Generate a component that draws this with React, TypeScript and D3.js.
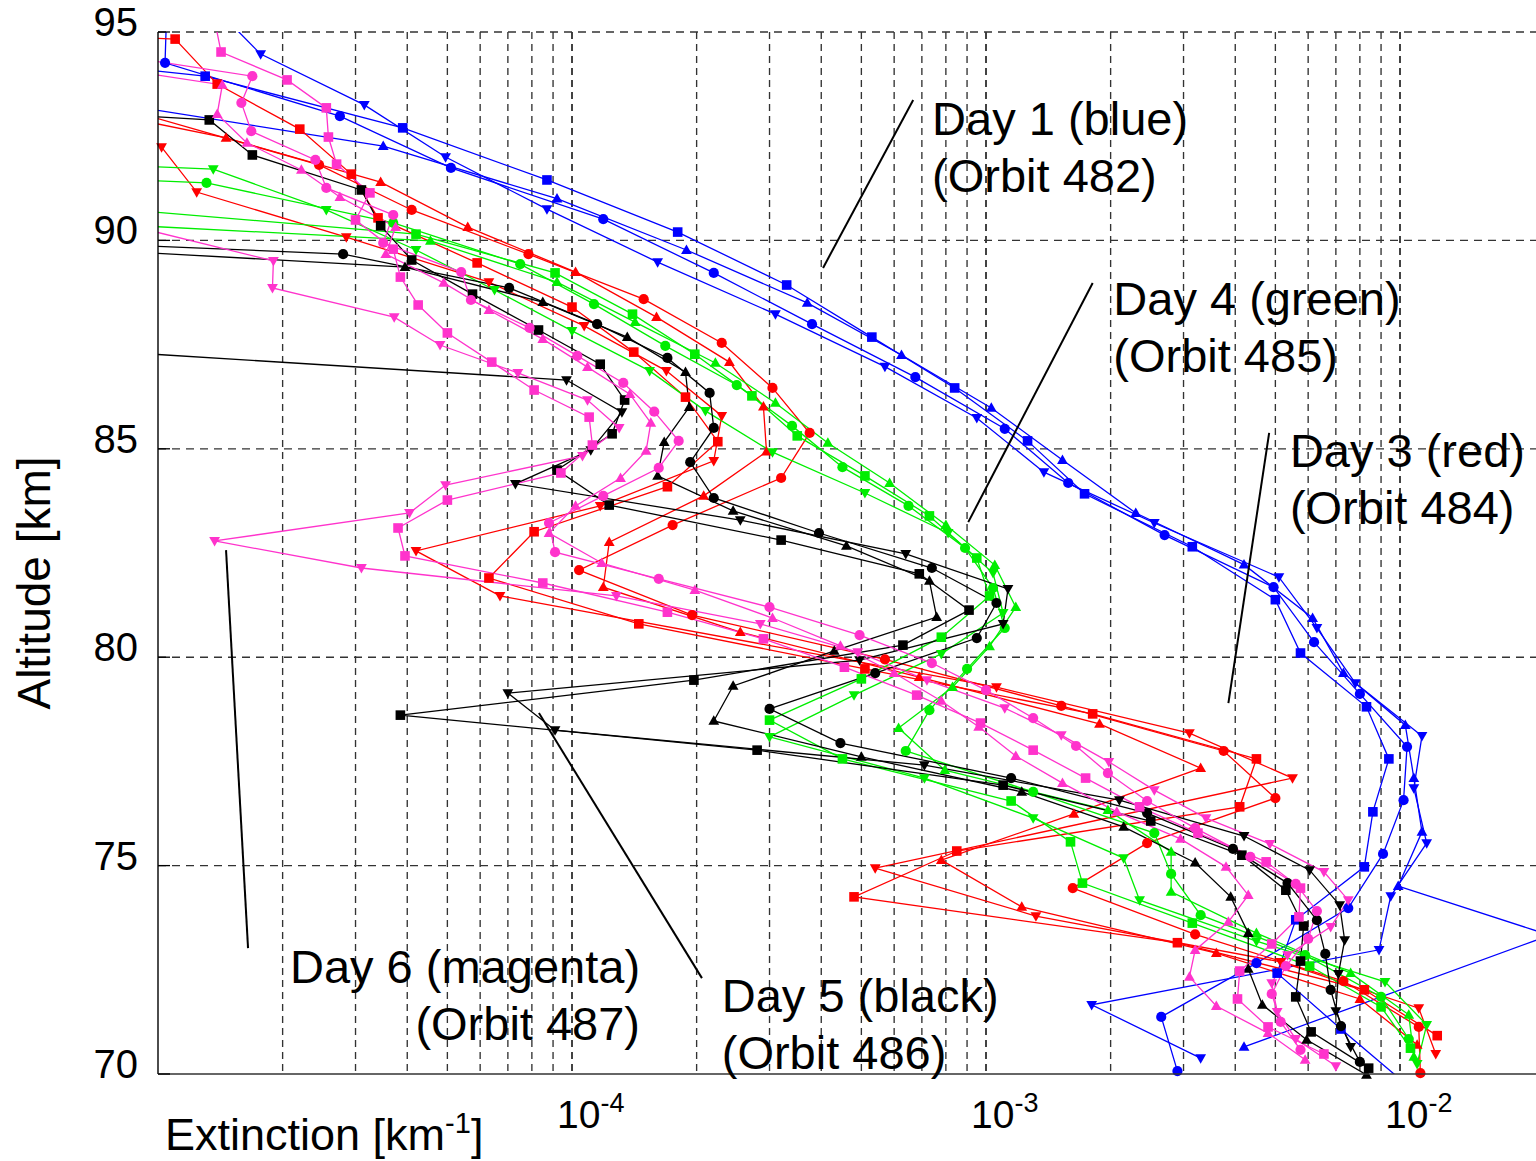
import React from 'react';
import * as d3 from 'd3';

// [altitude (km), extinction (km^-1)]
type P = [number, number];

const days = ['Day 1', 'Day 3', 'Day 4', 'Day 5', 'Day 6'];
const orbits = ['482', '484', '485', '486', '487'];
const dayColors = ['#0000ff', '#ff0000', '#00ee00', '#000000', '#ff33cc'];
const markerTypes = ['square', 'circle', 'up', 'down'];

// ---- Day 1 (blue, orbit 482)
const day1Square: P[] = [[94.3, 6e-6], [93.94, 1.3e-5], [92.7, 3.9e-5], [91.45, 8.7e-5], [90.2, 1.8e-4], [88.93, 3.3e-4], [87.68, 5.3e-4], [86.46, 8.4e-4], [85.19, 1.26e-3], [83.92, 1.73e-3], [82.65, 3.15e-3], [81.38, 5.0e-3], [80.1, 5.75e-3], [78.81, 8.3e-3], [77.56, 9.4e-3], [76.29, 8.6e-3], [74.97, 8.2e-3], [73.7, 5.6e-3], [72.42, 5.05e-3], [71.08, 7.2e-3], [69.7, 1.05e-2]];
const day1Circle: P[] = [[95.6, 1.05e-5], [94.26, 1.04e-5], [92.98, 2.75e-5], [91.74, 5.1e-5], [90.51, 1.19e-4], [89.22, 2.2e-4], [87.99, 3.8e-4], [86.72, 6.75e-4], [85.48, 1.11e-3], [84.18, 1.58e-3], [82.93, 2.7e-3], [81.68, 4.95e-3], [80.36, 6.2e-3], [79.12, 8.0e-3], [77.85, 1.04e-2], [76.57, 1.02e-2], [75.28, 9.1e-3], [73.98, 7.5e-3], [72.66, 4.5e-3], [71.37, 2.65e-3], [70.07, 2.9e-3]];
const day1Up: P[] = [[94.3, 1.8e-6], [92.26, 3.5e-5], [91.0, 9.2e-5], [89.77, 1.89e-4], [88.5, 3.7e-4], [87.25, 6.25e-4], [85.98, 1.03e-3], [84.73, 1.53e-3], [83.46, 2.3e-3], [82.22, 4.2e-3], [80.94, 6.15e-3], [79.62, 7.3e-3], [78.37, 1.03e-2], [77.1, 1.08e-2], [75.81, 1.13e-2], [74.51, 9.9e-3], [73.33, 2.3e-2], [70.65, 4.2e-3]];
const day1Down: P[] = [[95.72, 1.33e-5], [94.47, 1.77e-5], [93.25, 3.15e-5], [92.0, 4.95e-5], [90.75, 8.7e-5], [89.48, 1.61e-4], [88.23, 3.1e-4], [86.97, 5.7e-4], [85.74, 9.5e-4], [84.44, 1.38e-3], [83.22, 2.55e-3], [81.92, 5.1e-3], [80.7, 6.3e-3], [79.38, 7.8e-3], [78.11, 1.13e-2], [76.86, 1.08e-2], [75.54, 1.16e-2], [74.27, 9.5e-3], [72.98, 8.9e-3], [71.66, 1.8e-3], [70.38, 3.3e-3]];

// ---- Day 3 (red, orbit 484)
const day3Square: P[] = [[95.9, 2e-8], [94.83, 1.1e-5], [93.75, 1.39e-5], [92.67, 2.2e-5], [91.59, 2.93e-5], [90.54, 3.4e-5], [89.46, 5.9e-5], [88.4, 1.0e-4], [87.32, 1.41e-4], [86.24, 1.88e-4], [85.17, 2.25e-4], [84.09, 1.7e-4], [83.01, 8.1e-5], [81.9, 6.3e-5], [80.8, 1.45e-4], [79.72, 5.1e-4], [78.64, 1.81e-3], [77.56, 4.5e-3], [76.41, 4.1e-3], [75.35, 8.5e-4], [74.25, 4.8e-4], [73.15, 2.9e-3], [72.02, 8.2e-3], [70.92, 1.23e-2]];
const day3Circle: P[] = [[93.2, 8e-6], [91.81, 2.45e-5], [90.73, 4.1e-5], [89.67, 7.85e-5], [88.59, 1.49e-4], [87.54, 2.3e-4], [86.46, 3.05e-4], [85.38, 3.75e-4], [84.3, 3.2e-4], [83.17, 1.75e-4], [82.09, 1.04e-4], [81.01, 1.95e-4], [79.95, 5.7e-4], [78.83, 1.52e-3], [77.75, 3.75e-3], [76.62, 5.0e-3], [75.54, 2.45e-3], [74.46, 1.62e-3], [73.35, 3.2e-3], [72.23, 7.3e-3], [71.13, 1.11e-2], [70.02, 1.12e-2]];
const day3Up: P[] = [[93.4, 5e-6], [92.46, 1.46e-5], [91.4, 3.45e-5], [90.32, 5.6e-5], [89.24, 1.02e-4], [88.16, 1.6e-4], [87.08, 2.4e-4], [86.01, 2.9e-4], [84.93, 2.95e-4], [83.87, 2.08e-4], [82.76, 1.23e-4], [81.68, 1.19e-4], [80.6, 2.55e-4], [79.52, 6.9e-4], [78.4, 1.88e-3], [77.34, 3.3e-3], [76.24, 1.63e-3], [75.13, 7.8e-4], [74.01, 1.22e-3], [72.9, 3.6e-3], [71.8, 8.0e-3], [70.7, 1.1e-2]];
const day3Down: P[] = [[92.24, 1.02e-5], [91.16, 1.24e-5], [90.08, 2.85e-5], [89.0, 6.3e-5], [87.95, 1.07e-4], [86.87, 1.69e-4], [85.79, 2.3e-4], [84.71, 2.2e-4], [83.63, 1.17e-4], [82.55, 4.2e-5], [81.47, 6.7e-5], [79.28, 1.06e-3], [78.18, 3.1e-3], [77.1, 5.5e-3], [74.94, 5.4e-4], [73.79, 1.32e-3], [72.69, 5.15e-3], [71.58, 1.11e-2], [70.48, 1.22e-2]];

// ---- Day 4 (green, orbit 485)
const day4Square: P[] = [[91.14, 2.8e-6], [90.15, 4.2e-5], [89.22, 9.1e-5], [88.23, 1.4e-4], [87.27, 1.98e-4], [86.27, 2.72e-4], [85.31, 3.5e-4], [84.35, 5.1e-4], [83.39, 7.3e-4], [82.38, 9.5e-4], [81.47, 1.02e-3], [80.48, 7.8e-4], [79.48, 5.0e-4], [78.49, 3.0e-4], [77.56, 4.5e-4], [76.55, 1.15e-3], [75.57, 1.6e-3], [74.58, 1.71e-3], [73.62, 3.15e-3], [72.59, 6.05e-3], [71.61, 9.0e-3], [70.62, 1.06e-2]];
const day4Circle: P[] = [[92.5, 2e-8], [91.38, 1.31e-5], [90.42, 3.7e-5], [89.43, 7.5e-5], [88.47, 1.13e-4], [87.47, 1.68e-4], [86.53, 2.5e-4], [85.55, 3.4e-4], [84.56, 4.5e-4], [83.63, 6.5e-4], [82.62, 8.9e-4], [81.66, 1.04e-3], [80.7, 1.11e-3], [79.72, 9.0e-4], [78.73, 7.3e-4], [77.75, 6.4e-4], [76.77, 1.3e-3], [75.78, 2.55e-3], [74.8, 2.8e-3], [73.81, 3.3e-3], [72.85, 5.9e-3], [71.85, 9.0e-3], [70.84, 1.05e-2]];
const day4Up: P[] = [[90.97, 5.6e-7], [89.99, 4.55e-5], [89.0, 9.2e-5], [88.04, 1.42e-4], [87.06, 2.22e-4], [86.1, 3.1e-4], [85.14, 4.15e-4], [84.18, 5.85e-4], [83.17, 8.0e-4], [82.21, 1.05e-3], [81.2, 1.18e-3], [80.26, 1.02e-3], [79.28, 8.3e-4], [78.3, 6.15e-4], [77.29, 7.95e-4], [76.33, 1.97e-3], [75.33, 2.8e-3], [74.37, 2.8e-3], [73.38, 4.5e-3], [72.42, 7.6e-3], [71.42, 1.05e-2], [70.41, 1.08e-2]];
const day4Down: P[] = [[92.6, 1e-7], [91.71, 1.36e-5], [90.73, 2.55e-5], [89.77, 4.2e-5], [88.81, 6.5e-5], [87.83, 1.0e-4], [86.87, 1.54e-4], [85.91, 2.1e-4], [84.92, 3.05e-4], [83.94, 5.1e-4], [82.98, 8.1e-4], [82.02, 1.04e-3], [81.06, 1.1e-3], [80.08, 7.8e-4], [79.09, 4.8e-4], [78.09, 3.0e-4], [77.1, 7.1e-4], [76.14, 1.3e-3], [75.18, 2.15e-3], [74.17, 2.35e-3], [73.19, 4.5e-3], [72.21, 9.2e-3], [71.18, 1.16e-2], [70.24, 1.1e-2]];

// ---- Day 5 (black, orbit 486)
const day5Square: P[] = [[93.73, 4.9e-7], [92.89, 1.33e-5], [92.05, 1.69e-5], [91.21, 3.1e-5], [90.35, 3.45e-5], [89.53, 4.1e-5], [88.71, 5.75e-5], [87.85, 8.3e-5], [87.03, 1.17e-4], [86.17, 1.34e-4], [85.36, 1.25e-4], [84.49, 9.2e-5], [83.65, 1.23e-4], [82.81, 3.2e-4], [82.0, 6.9e-4], [81.13, 9.1e-4], [80.29, 6.3e-4], [79.45, 1.97e-4], [78.61, 3.85e-5], [77.77, 2.8e-4], [76.93, 1.1e-3], [76.07, 2.5e-3], [75.25, 4.15e-3], [74.41, 5.3e-3], [73.55, 5.85e-3], [72.71, 5.75e-3], [71.85, 5.6e-3], [71.01, 6.1e-3], [70.14, 8.4e-3]];
const day5Circle: P[] = [[90.5, 3e-7], [89.67, 2.8e-5], [88.86, 7.05e-5], [87.99, 1.15e-4], [87.18, 1.7e-4], [86.34, 2.15e-4], [85.5, 2.2e-4], [84.68, 1.93e-4], [83.82, 2.2e-4], [82.98, 3.95e-4], [82.14, 7.4e-4], [81.3, 1.06e-3], [80.46, 9.5e-4], [79.62, 5.4e-4], [78.76, 3.0e-4], [77.94, 4.45e-4], [77.1, 1.15e-3], [76.26, 2.45e-3], [75.4, 3.95e-3], [74.58, 5.35e-3], [73.69, 6.3e-3], [72.88, 6.6e-3], [72.02, 6.8e-3], [71.15, 7.2e-3], [70.29, 8.0e-3]];
const day5Up: P[] = [[90.2, 1.2e-6], [89.36, 3.95e-5], [88.52, 8.5e-5], [87.68, 1.36e-4], [86.84, 1.88e-4], [86.0, 1.92e-4], [85.16, 1.67e-4], [84.35, 1.61e-4], [83.51, 2.45e-4], [82.67, 4.6e-4], [81.83, 7.3e-4], [80.96, 7.6e-4], [80.15, 4.3e-4], [79.31, 2.45e-4], [78.47, 2.2e-4], [77.61, 5.0e-4], [76.77, 1.22e-3], [75.93, 2.15e-3], [75.07, 3.2e-3], [74.25, 3.9e-3], [73.38, 4.3e-3], [72.52, 4.3e-3], [71.66, 4.65e-3], [70.82, 5.95e-3], [69.98, 8.3e-3]];
const day5Down: P[] = [[87.4, 6e-6], [86.65, 9.7e-5], [85.88, 1.32e-4], [84.97, 1.11e-4], [84.16, 7.3e-5], [83.29, 2.55e-4], [82.48, 6.4e-4], [81.64, 1.13e-3], [80.8, 1.1e-3], [79.93, 4.95e-4], [79.14, 7.0e-5], [78.25, 9.1e-5], [77.41, 7.1e-4], [76.57, 2.1e-3], [75.71, 4.2e-3], [74.89, 6.05e-3], [74.05, 7.15e-3], [73.21, 7.35e-3], [72.4, 7.1e-3], [71.51, 7.0e-3], [70.65, 7.6e-3]];

// ---- Day 6 (magenta, orbit 487)
const day6Square: P[] = [[95.6, 1.35e-5], [94.52, 1.42e-5], [93.85, 2.05e-5], [93.18, 2.55e-5], [92.48, 2.58e-5], [91.83, 2.7e-5], [91.14, 3.25e-5], [90.49, 3.0e-5], [89.79, 3.7e-5], [89.12, 3.85e-5], [88.45, 4.25e-5], [87.78, 5.0e-5], [87.08, 6.4e-5], [86.41, 8.1e-5], [85.76, 1.1e-4], [85.09, 1.12e-4], [84.42, 9.4e-5], [83.77, 5.0e-5], [83.1, 3.8e-5], [82.43, 3.95e-5], [81.78, 8.5e-5], [81.08, 1.7e-4], [80.44, 2.9e-4], [79.76, 4.55e-4], [79.09, 6.8e-4], [78.42, 9.7e-4], [77.77, 1.3e-3], [77.1, 1.74e-3], [76.41, 2.35e-3], [75.78, 3.25e-3], [75.09, 4.75e-3], [74.46, 5.75e-3], [73.77, 5.7e-3], [73.12, 4.9e-3], [72.47, 4.1e-3], [71.8, 4.05e-3], [71.13, 4.8e-3], [70.48, 6.55e-3]];
const day6Circle: P[] = [[94.6, 6.3e-6], [93.94, 1.69e-5], [93.3, 1.59e-5], [92.62, 1.68e-5], [91.93, 2.4e-5], [91.26, 2.55e-5], [90.61, 3.7e-5], [89.94, 3.5e-5], [89.24, 5.4e-5], [88.57, 5.7e-5], [87.9, 7.9e-5], [87.23, 1.03e-4], [86.58, 1.33e-4], [85.89, 1.58e-4], [85.19, 1.81e-4], [84.54, 1.62e-4], [83.87, 1.19e-4], [83.22, 8.8e-5], [82.52, 9.1e-5], [81.88, 1.62e-4], [81.2, 3.0e-4], [80.53, 4.95e-4], [79.86, 7.4e-4], [79.21, 1.0e-3], [78.54, 1.3e-3], [77.87, 1.65e-3], [77.22, 1.97e-3], [76.55, 2.45e-3], [75.9, 3.2e-3], [75.21, 4.35e-3], [74.56, 5.6e-3], [73.91, 6.3e-3], [73.24, 6.0e-3], [72.59, 5.3e-3], [71.92, 4.9e-3], [71.25, 5.15e-3], [70.58, 5.75e-3]];
const day6Up: P[] = [[94.4, 5.2e-6], [93.73, 1.43e-5], [93.03, 1.39e-5], [92.34, 1.64e-5], [91.69, 2.22e-5], [91.04, 2.75e-5], [90.32, 3.75e-5], [89.67, 3.55e-5], [88.98, 4.9e-5], [88.33, 6.3e-5], [87.63, 8.5e-5], [86.96, 1.09e-4], [86.31, 1.38e-4], [85.62, 1.55e-4], [84.95, 1.51e-4], [84.3, 1.31e-4], [83.63, 1.02e-4], [82.98, 8.8e-5], [82.26, 1.18e-4], [81.61, 1.98e-4], [80.94, 3.05e-4], [80.27, 4.45e-4], [79.62, 6.0e-4], [78.95, 7.8e-4], [78.33, 9.6e-4], [77.63, 1.18e-3], [76.98, 1.53e-3], [76.29, 2.07e-3], [75.64, 2.95e-3], [74.97, 3.8e-3], [74.29, 4.3e-3], [73.65, 3.85e-3], [72.97, 3.2e-3], [72.33, 3.1e-3], [71.63, 3.6e-3], [70.98, 4.8e-3], [70.34, 5.9e-3]];
const day6Down: P[] = [[90.3, 9e-6], [89.51, 1.9e-5], [88.86, 1.89e-5], [88.16, 3.72e-5], [87.49, 4.8e-5], [86.82, 7.4e-5], [86.17, 1.09e-4], [85.5, 1.3e-4], [84.83, 1.06e-4], [84.13, 4.95e-5], [83.46, 4.05e-5], [82.79, 1.37e-5], [82.14, 3.1e-5], [81.47, 1.28e-4], [80.8, 2.85e-4], [80.12, 4.9e-4], [79.45, 7.2e-4], [78.78, 1.11e-3], [78.13, 1.52e-3], [77.49, 1.98e-3], [76.81, 2.55e-3], [76.14, 3.4e-3], [75.52, 4.85e-3], [74.85, 6.55e-3], [74.17, 7.5e-3], [73.53, 6.8e-3], [72.85, 5.35e-3], [72.18, 4.9e-3], [71.49, 5.05e-3], [70.84, 5.6e-3], [70.19, 7.0e-3]];

const profileSets: P[][][] = [
  [day1Square, day1Circle, day1Up, day1Down],
  [day3Square, day3Circle, day3Up, day3Down],
  [day4Square, day4Circle, day4Up, day4Down],
  [day5Square, day5Circle, day5Up, day5Down],
  [day6Square, day6Circle, day6Up, day6Down],
];

const yTicks = [70, 75, 80, 85, 90, 95];
const xLabelTicks = [1e-4, 1e-3, 1e-2];
const xLabelExp = ['-4', '-3', '-2'];

const annoText = [
  ['Day 1 (blue)', '(Orbit 482)'],
  ['Day 4 (green)', '(Orbit 485)'],
  ['Day 3 (red)', '(Orbit 484)'],
  ['Day 6 (magenta)', '(Orbit 487)'],
  ['Day 5 (black)', '(Orbit 486)'],
];
const annoAt: [number, number][] = [[7.41e-4, 92.53], [2.03e-3, 88.21], [5.42e-3, 84.56], [1.46e-4, 72.18], [2.3e-4, 71.49]];
const annoAnchor = ['start', 'start', 'start', 'end', 'start'];
const annoLeader: [number, number][][] = [
  [[6.67e-4, 93.37], [4.04e-4, 89.34]],
  [[1.81e-3, 88.98], [9.06e-4, 83.24]],
  [[4.83e-3, 85.38], [3.85e-3, 78.9]],
  [[1.46e-5, 82.57], [1.65e-5, 73.02]],
  [[8.32e-5, 78.66], [2.06e-4, 72.3]],
];

const FONT = "'Liberation Sans', Arial, Helvetica, sans-serif";

function Marker({ type, cx, cy, color }: { type: string; cx: number; cy: number; color: string }) {
  if (type === 'circle') return <circle cx={cx} cy={cy} r={5.1} fill={color} />;
  if (type === 'square') return <rect x={cx - 4.8} y={cy - 4.8} width={9.6} height={9.6} fill={color} />;
  if (type === 'up') return <path d={`M${cx},${cy - 5.6}L${cx + 5.4},${cy + 3.9}L${cx - 5.4},${cy + 3.9}Z`} fill={color} />;
  return <path d={`M${cx},${cy + 5.6}L${cx + 5.4},${cy - 3.9}L${cx - 5.4},${cy - 3.9}Z`} fill={color} />;
}

export default function App() {
  const W = 1536, H = 1161;
  const left = 158, right = 1536, top = 32, bottom = 1074;
  const x = d3.scaleLog().domain([1e-5, 1e-2]).range([158, 1400]);
  const y = d3.scaleLinear().domain([70, 95]).range([bottom, top]);
  const line = d3.line<P>().x(d => x(d[1])).y(d => y(d[0]));

  const gridX = x.ticks().filter(v => v > 1.001e-5 && v < 1.001e-2);
  const isMajor = (v: number) => Math.abs(Math.log10(v) - Math.round(Math.log10(v))) < 1e-6;

  return (
    <div>
      <style>{`body{margin:0;background:#fff}`}</style>
      <svg width={W} height={H} viewBox={`0 0 ${W} ${H}`} style={{ display: 'block', background: '#fff' }} fontFamily={FONT}>
        <defs>
          <clipPath id="plotClip"><rect x={left} y={top} width={right - left} height={bottom - top} /></clipPath>
          <clipPath id="markClip"><rect x={left - 6} y={top - 6} width={right - left + 6} height={bottom - top + 12} /></clipPath>
        </defs>

        {gridX.map((v, i) => (
          <line key={'gx' + i} x1={x(v)} x2={x(v)} y1={top} y2={bottom}
            stroke={isMajor(v) ? '#222' : '#333'} strokeWidth={isMajor(v) ? 1.7 : 1.35} strokeDasharray="7,5" />
        ))}
        {yTicks.filter(t => t > 70).map(t => (
          <line key={'gy' + t} x1={left} x2={right} y1={y(t)} y2={y(t)} stroke="#333" strokeWidth={1.35} strokeDasharray="8,6" />
        ))}

        <g clipPath="url(#plotClip)">
          {profileSets.map((set, di) => set.map((data, mi) => (
            <path key={`l${di}-${mi}`} d={line(data) || ''} fill="none" stroke={dayColors[di]} strokeWidth={1.3} />
          )))}
        </g>
        <g clipPath="url(#markClip)">
          {profileSets.map((set, di) => set.map((data, mi) => data.map((d, k) => (
            <Marker key={`m${di}-${mi}-${k}`} type={markerTypes[mi]} cx={x(d[1])} cy={y(d[0])} color={dayColors[di]} />
          ))))}
        </g>

        <line x1={left} x2={left} y1={top} y2={bottom} stroke="#000" strokeWidth={1.4} />
        <line x1={left} x2={right} y1={bottom} y2={bottom} stroke="#333" strokeWidth={1.5} />
        {yTicks.map(t => (
          <line key={'yt' + t} x1={left} x2={left + 12} y1={y(t)} y2={y(t)} stroke="#000" strokeWidth={1.3} />
        ))}
        {yTicks.map(t => (
          <text key={'yl' + t} x={138} y={y(t) + 4} textAnchor="end" fontSize={40} fill="#000">{t}</text>
        ))}
        {xLabelTicks.map((v, i) => (
          <text key={'xl' + i} x={x(v) - 15} y={1128} fontSize={39} fill="#000">
            10<tspan fontSize={27} dy={-16}>{xLabelExp[i]}</tspan>
          </text>
        ))}

        <text x={165} y={1150} fontSize={45} fill="#000">
          Extinction [km<tspan fontSize={29} dy={-17}>-1</tspan><tspan dy={17}>]</tspan>
        </text>
        <text transform="translate(50,583) rotate(-90)" textAnchor="middle" fontSize={46} fill="#000">Altitude [km]</text>

        {annoLeader.map((seg, i) => (
          <line key={'al' + i} x1={x(seg[0][0])} y1={y(seg[0][1])} x2={x(seg[1][0])} y2={y(seg[1][1])} stroke="#000" strokeWidth={2} />
        ))}
        {annoText.map((lines, i) => (
          <text key={'at' + i} x={x(annoAt[i][0])} y={y(annoAt[i][1])} fontSize={47} fill="#000" textAnchor={annoAnchor[i] as any}>
            <tspan x={x(annoAt[i][0])}>{lines[0]}</tspan>
            <tspan x={x(annoAt[i][0])} dy={57}>{lines[1]}</tspan>
          </text>
        ))}
      </svg>
    </div>
  );
}
